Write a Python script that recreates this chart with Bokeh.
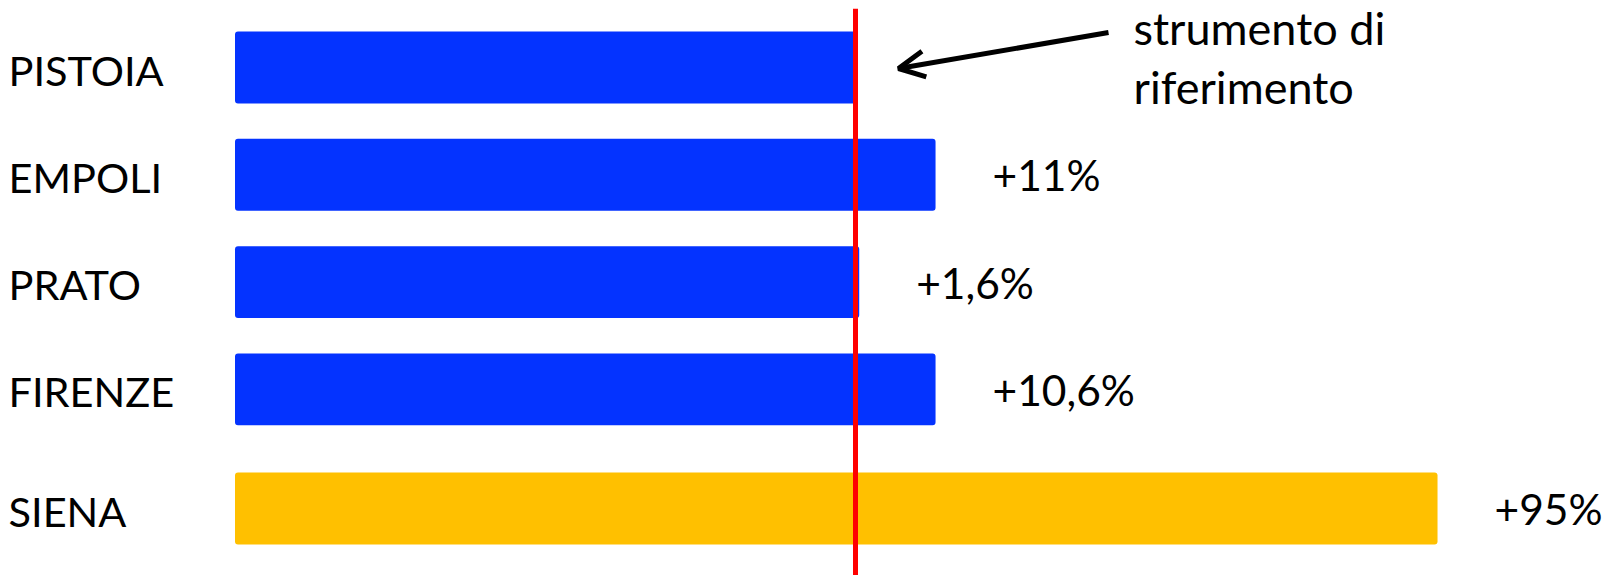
from bokeh.plotting import figure
from bokeh.models import Range1d, Span, Arrow, OpenHead, ColumnDataSource
from bokeh.core.properties import value
from bokeh.embed import file_html
from bokeh.resources import INLINE

# ---- data ----
cities = ["PISTOIA", "EMPOLI", "PRATO", "FIRENZE", "SIENA"]
bar_values = [100, 112.9, 100.6, 112.9, 193.8]
pct_labels = ["", "+11%", "+1,6%", "+10,6%", "+95%"]
highlight = [False, False, False, False, True]
reference = 100
note = "strumento di\nriferimento"

# ---- layout ----
W, H = 1611, 575
TOP = 8
FRAME_H = H - TOP
PX_PER_UNIT_X = 6.205
ZERO_X = 234.5
ROW_PX = 107.3
TOP_PAD = 0.55
GROUP_GAP = 0.11
FONT = "Lato"

x_start = -ZERO_X / PX_PER_UNIT_X
x_end = x_start + W / PX_PER_UNIT_X
y_top = -TOP_PAD
y_bottom = FRAME_H / ROW_PX - TOP_PAD


def px_x(px):
    return x_start + px / PX_PER_UNIT_X


def px_y(py):
    # py: page pixel from top
    return y_top + (py - TOP) / ROW_PX


rows = []
r = 0.0
for i, h in enumerate(highlight):
    if i > 0 and h != highlight[i - 1]:
        r += GROUP_GAP
    rows.append(r)
    r += 1

colors = ["#FFC000" if h else "#0433FF" for h in highlight]

src = ColumnDataSource(dict(row=rows, value=bar_values, city=cities,
                            pct=pct_labels, color=colors))

p = figure(width=W, height=H, x_range=Range1d(x_start, x_end),
           y_range=Range1d(y_bottom, y_top), output_backend="svg",
           toolbar_location=None, min_border=0, min_border_top=TOP,
           outline_line_color=None,
           x_axis_location=None, y_axis_location=None)
p.grid.grid_line_color = None
p.background_fill_color = "white"
p.border_fill_color = "white"

p.hbar(y="row", left=0, right="value", height=0.67, fill_color="color",
       line_color=None, border_radius=3, source=src)

p.add_layout(Span(location=reference, dimension="height",
                  line_color="#FF0000", line_width=5))

p.text(x=x_start, y="row", text="city", x_offset=8, y_offset=2,
       text_align="left", text_baseline="middle", text_font=value(FONT),
       text_font_size="41.5px", text_color="black", source=src)

p.text(x="value", y="row", text="pct", x_offset=57, y_offset=0,
       text_align="left", text_baseline="middle", text_font=value(FONT),
       text_font_size="42.5px", text_color="black", source=src)

p.text(x=[px_x(1133)], y=[px_y(0)], text=[note], text_align="left",
       text_baseline="top", text_font=value(FONT), text_font_size="45px",
       text_line_height=1.1, text_color="black")

p.add_layout(Arrow(end=OpenHead(size=26, line_width=5, line_color="black"),
                   x_start=px_x(1108), y_start=px_y(32),
                   x_end=px_x(898), y_end=px_y(68),
                   line_width=5, line_color="black"))

open("out.html", "w").write(file_html(p, INLINE))
